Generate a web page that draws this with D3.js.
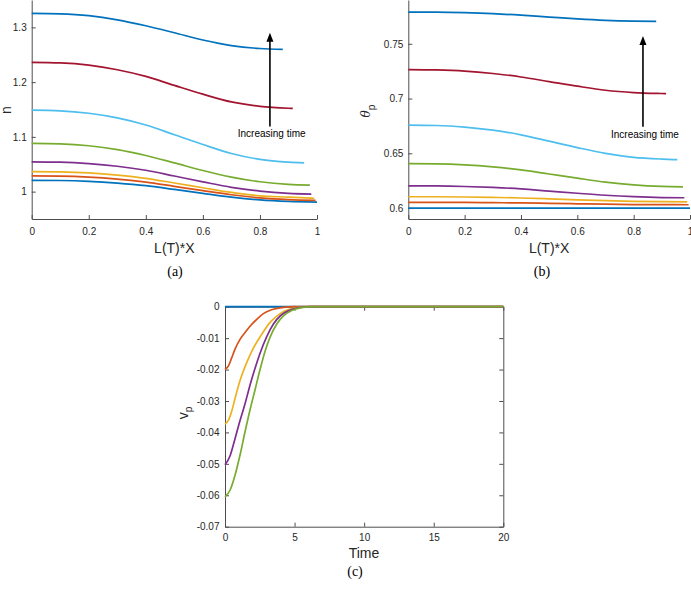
<!DOCTYPE html>
<html>
<head>
<meta charset="utf-8">
<script src="https://cdn.jsdelivr.net/npm/d3@7"></script>
<style>
body{margin:0;background:#fff;}
svg{display:block;background:#fff;font-family:"Liberation Sans",Arial,sans-serif;}
.tick text{font-size:10px;fill:#262626;}
.tick line{stroke:#4d4d4d;}
.domain{stroke:#4d4d4d;}
.axis-label{font-size:14px;fill:#262626;}
.note{font-size:10px;fill:#000;}
.caption{font-family:"Liberation Serif","DejaVu Serif",serif;font-size:14px;fill:#000;}
</style>
</head>
<body>
<svg width="691" height="589"></svg>
<script>
// ---- data ----
const lineColors = ['#0072BD','#D95319','#EDB120','#7E2F8E','#77AC30','#4DBEEE','#A2142F','#0072BD'];

// panels (a) and (b): profiles along L(T)*X, one curve per time, oldest first
const posGrid = [0, 0.1, 0.2, 0.3, 0.4, 0.5, 0.6, 0.7, 0.8, 0.9];
const curveEnds = [1.0, 0.995, 0.99, 0.98, 0.975, 0.955, 0.915, 0.88];

const nValues = [
  [1.0207, 1.0203, 1.0187, 1.0155, 1.0108, 1.0040, 0.9969, 0.9901, 0.9850, 0.9822, 0.9810],
  [1.0286, 1.0282, 1.0264, 1.0228, 1.0175, 1.0097, 1.0018, 0.9943, 0.9886, 0.9854, 0.9840],
  [1.0366, 1.0361, 1.0342, 1.0302, 1.0243, 1.0158, 1.0071, 0.9985, 0.9924, 0.9900, 0.9878],
  [1.0543, 1.0537, 1.0512, 1.0464, 1.0390, 1.0285, 1.0179, 1.0079, 1.0009, 0.9969, 0.9956],
  [1.0880, 1.0872, 1.0838, 1.0768, 1.0660, 1.0525, 1.0385, 1.0265, 1.0180, 1.0133, 1.0120],
  [1.1487, 1.1476, 1.1432, 1.1347, 1.1217, 1.1039, 1.0861, 1.0697, 1.0589, 1.0538, 1.0524],
  [1.2360, 1.2350, 1.2310, 1.2226, 1.2104, 1.1940, 1.1780, 1.1638, 1.1558, 1.1523, 1.1520],
  [1.3256, 1.3247, 1.3213, 1.3138, 1.3029, 1.2901, 1.2769, 1.2667, 1.2614, 1.2598]
];

const thetaValues = [
  [0.6000, 0.6000, 0.6000, 0.6000, 0.6000, 0.6000, 0.6000, 0.6000, 0.6000, 0.6000, 0.6000],
  [0.6052, 0.6052, 0.6051, 0.6049, 0.6047, 0.6043, 0.6039, 0.6035, 0.6032, 0.6031, 0.6030],
  [0.6103, 0.6103, 0.6101, 0.6097, 0.6092, 0.6084, 0.6075, 0.6067, 0.6061, 0.6058, 0.6057],
  [0.6203, 0.6202, 0.6197, 0.6188, 0.6175, 0.6155, 0.6135, 0.6117, 0.6104, 0.6096, 0.6094],
  [0.6405, 0.6403, 0.6394, 0.6376, 0.6349, 0.6311, 0.6273, 0.6237, 0.6212, 0.6198, 0.6194],
  [0.6757, 0.6754, 0.6739, 0.6711, 0.6669, 0.6611, 0.6552, 0.6499, 0.6463, 0.6447, 0.6442],
  [0.7264, 0.7261, 0.7251, 0.7229, 0.7197, 0.7155, 0.7113, 0.7076, 0.7055, 0.7046, 0.7045],
  [0.7790, 0.7789, 0.7784, 0.7775, 0.7761, 0.7744, 0.7727, 0.7714, 0.7707, 0.7705]
];

// panel (c): v_p against time
const vTimes = [
  [0, 20],
  [0, 0.24, 0.48, 0.72, 1.08, 1.44, 1.8, 2.28, 2.76, 3.4, 4.2, 5, 20],
  [0, 0.24, 0.48, 0.72, 1.08, 1.56, 2.04, 2.64, 3.24, 3.96, 4.8, 6, 20],
  [0, 0.36, 0.72, 1.08, 1.44, 1.8, 2.16, 2.52, 3.0, 3.48, 4.0, 4.6, 5.3, 6.2, 20],
  [0, 0.36, 0.72, 1.08, 1.44, 1.8, 2.16, 2.52, 2.88, 3.24, 3.72, 4.2, 4.8, 5.5, 6.3, 20]
];
const vValues = [
  [0, 0],
  [-0.0199, -0.0189, -0.0163, -0.0135, -0.0104, -0.0082, -0.0062, -0.0040, -0.0022, -0.0009, -0.0002, 0, 0],
  [-0.0373, -0.0362, -0.0333, -0.0292, -0.0235, -0.0178, -0.0132, -0.0088, -0.0050, -0.0022, -0.0006, 0, 0],
  [-0.0503, -0.0475, -0.0420, -0.0362, -0.0309, -0.0249, -0.0196, -0.0148, -0.0095, -0.0055, -0.0028, -0.0012, -0.0003, 0, 0],
  [-0.0605, -0.0584, -0.0536, -0.0472, -0.0398, -0.0328, -0.0264, -0.0200, -0.0142, -0.0097, -0.0055, -0.0029, -0.0012, -0.0003, 0, 0]
];

const posTicks = [0, 0.2, 0.4, 0.6, 0.8, 1];
const nTicks = [1, 1.1, 1.2, 1.3];
const thetaTicks = [0.6, 0.65, 0.7, 0.75];
const timeTicks = [0, 5, 10, 15, 20];
const vTicks = [-0.07, -0.06, -0.05, -0.04, -0.03, -0.02, -0.01, 0];

const svg = d3.select('svg');
const fmt = d => String(d);

// curves for (a)/(b): grid points below the curve end, then the end itself
const profile = (vals, i) => posGrid.filter(x => x < curveEnds[i] - 1e-9)
  .concat([curveEnds[i]])
  .map((x, j) => ({x: x, y: vals[j]}));

function drawProfilePanel(o) {
  const x = d3.scaleLinear().domain([0, 1]).range(o.xr);
  const y = d3.scaleLinear().domain(o.yd).range([219, 0]);
  const g = svg.append('g');

  g.append('g').attr('transform', `translate(0,${y.range()[0]})`)
    .call(d3.axisBottom(x).tickValues(posTicks).tickFormat(fmt)
      .tickSizeInner(-4).tickSizeOuter(0).tickPadding(8.5));
  g.append('g').attr('transform', `translate(${o.xr[0]},0)`)
    .call(d3.axisLeft(y).tickValues(o.ticks).tickFormat(fmt)
      .tickSizeInner(-4).tickSizeOuter(0).tickPadding(5));

  const line = d3.line().x(d => x(d.x)).y(d => y(d.y)).curve(d3.curveMonotoneX);
  o.values.forEach((vals, i) => {
    g.append('path').datum(profile(vals, i))
      .attr('d', line).attr('fill', 'none')
      .attr('stroke', lineColors[i]).attr('stroke-width', 1.7);
  });

  // arrow + note
  const ax = x(o.arrow[0]);
  g.append('line').attr('x1', ax).attr('x2', ax)
    .attr('y1', y(o.arrow[1])).attr('y2', y(o.arrow[2]) + 8)
    .attr('stroke', '#000').attr('stroke-width', 1.6);
  const ty = y(o.arrow[2]);
  g.append('path').attr('d', `M${ax},${ty}L${ax - 3.5},${ty + 9}L${ax + 3.5},${ty + 9}Z`)
    .attr('fill', '#000');
  g.append('text').attr('class', 'note').attr('x', x(o.note[0])).attr('y', y(o.note[1]))
    .attr('text-anchor', 'middle').text('Increasing time');

  const mid = (o.xr[0] + o.xr[1]) / 2;
  g.append('text').attr('class', 'axis-label').attr('x', mid).attr('y', 253)
    .attr('text-anchor', 'middle').text('L(T)*X');
  g.append('text').attr('class', 'caption').attr('x', o.capX).attr('y', 275.5)
    .attr('text-anchor', 'middle').text(o.caption);
  return g;
}

const ga = drawProfilePanel({
  xr: [31.7, 317], yd: [0.95, 1.35], ticks: nTicks, values: nValues,
  arrow: [0.835, 1.119, 1.29], note: [0.841, 1.1], capX: 175, caption: '(a)'
});
ga.append('text').attr('class', 'axis-label')
  .attr('transform', 'translate(11,110) rotate(-90)')
  .attr('text-anchor', 'middle').text('n');

const gb = drawProfilePanel({
  xr: [408.3, 690], yd: [0.59, 0.79], ticks: thetaTicks, values: thetaValues,
  arrow: [0.833, 0.6743, 0.7571], note: [0.84, 0.664], capX: 542, caption: '(b)'
});
const tb = gb.append('text').attr('class', 'axis-label')
  .attr('transform', 'translate(370,111) rotate(-90)')
  .attr('text-anchor', 'middle');
tb.append('tspan').attr('font-family', '"DejaVu Serif",serif').attr('font-style', 'italic')
  .attr('font-size', 12).text('θ');
tb.append('tspan').attr('dy', 5).attr('font-size', 10).text('p');

// panel (c)
{
  const x = d3.scaleLinear().domain([0, 20]).range([225, 503.3]);
  const y = d3.scaleLinear().domain([-0.07, 0]).range([526.7, 306.7]);
  const g = svg.append('g');

  g.append('g').attr('transform', `translate(0,${y(-0.07)})`)
    .call(d3.axisBottom(x).tickValues(timeTicks).tickFormat(fmt)
      .tickSizeInner(-4).tickSizeOuter(0).tickPadding(7.5));
  g.append('g').attr('transform', `translate(0,${y(0)})`)
    .call(d3.axisTop(x).tickValues(timeTicks).tickFormat('')
      .tickSizeInner(-4).tickSizeOuter(0));
  g.append('g').attr('transform', `translate(${x(0)},0)`)
    .call(d3.axisLeft(y).tickValues(vTicks).tickFormat(fmt)
      .tickSizeInner(-4).tickSizeOuter(0).tickPadding(5.5));
  g.append('g').attr('transform', `translate(${x(20)},0)`)
    .call(d3.axisRight(y).tickValues(vTicks).tickFormat('')
      .tickSizeInner(-4).tickSizeOuter(0));

  const line = d3.line().x(d => x(d[0])).y(d => y(d[1])).curve(d3.curveMonotoneX);
  vTimes.forEach((ts, i) => {
    g.append('path').datum(ts.map((t, j) => [t, vValues[i][j]]))
      .attr('d', line).attr('fill', 'none')
      .attr('stroke', lineColors[i]).attr('stroke-width', 1.7);
  });

  g.append('text').attr('class', 'axis-label').attr('x', 364).attr('y', 558)
    .attr('text-anchor', 'middle').text('Time');
  g.append('text').attr('class', 'caption').attr('x', 355).attr('y', 576)
    .attr('text-anchor', 'middle').text('(c)');
  const tv = g.append('text').attr('class', 'axis-label')
    .attr('transform', 'translate(188,413) rotate(-90)')
    .attr('text-anchor', 'middle');
  tv.append('tspan').text('v');
  tv.append('tspan').attr('dy', 4).attr('font-size', 10).text('p');
}
</script>
</body>
</html>
